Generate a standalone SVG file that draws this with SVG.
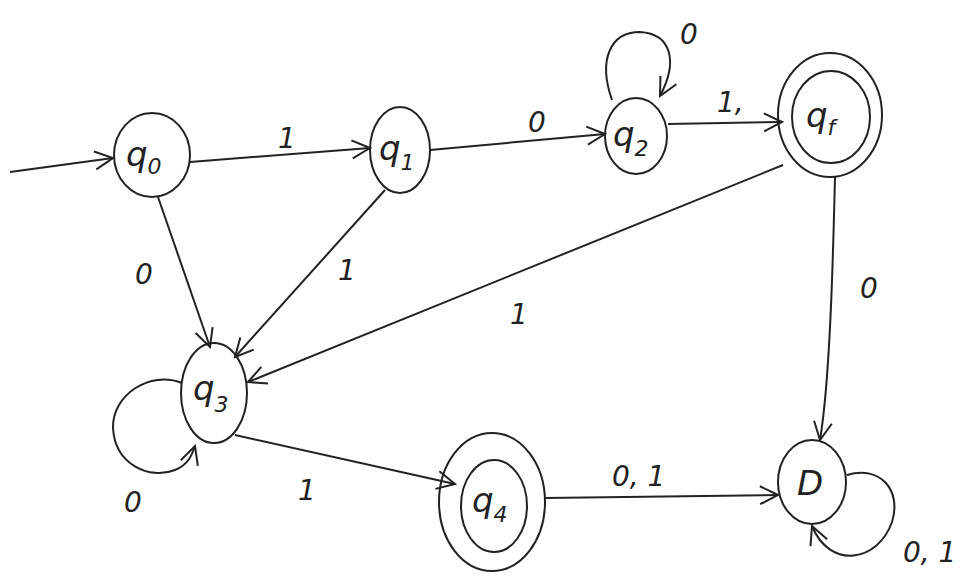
<svg xmlns="http://www.w3.org/2000/svg" width="968" height="576" viewBox="0 0 968 576">
<style>
.s{fill:none;stroke:#222;stroke-width:2;stroke-linecap:round}
.e{fill:none;stroke:#222;stroke-width:2;marker-end:url(#ah)}
.t{font-family:"DejaVu Sans",sans-serif;font-size:34px;fill:#222;font-style:italic}
.sub{font-size:22px}
.l{font-family:"DejaVu Sans",sans-serif;font-size:28px;fill:#222;font-style:italic}
</style>
<defs>
<marker id="ah" markerWidth="22" markerHeight="22" refX="20" refY="11" orient="auto" markerUnits="userSpaceOnUse">
<path d="M2,2 L20,11 L2,20" fill="none" stroke="#222" stroke-width="2"/>
</marker>
</defs>
<rect width="968" height="576" fill="#fff"/>
<g id="edges">
<path class="e" d="M10,172 L113,158"/>
<path class="e" d="M190,162 L370,148"/>
<path class="e" d="M430,150 L605,134"/>
<path class="e" d="M668,124 L782,122"/>
<path class="e" d="M612,100 C598,60 610,32 640,32 C672,34 678,62 660,96"/>
<path class="e" d="M158,197 L210,347"/>
<path class="e" d="M385,190 L235,357"/>
<path class="e" d="M783,165 L248,382"/>
<path class="e" d="M835,177 C833,260 830,380 820,440"/>
<path class="e" d="M182,383 C150,370 112,395 113,428 C115,465 150,480 175,470 C188,465 192,455 195,446"/>
<path class="e" d="M235,435 L455,484"/>
<path class="e" d="M545,498 L778,495"/>
<path class="e" d="M847,475 C880,465 902,490 892,522 C878,562 830,570 812,526"/>
<text class="l" x="278" y="148">1</text>
<text class="l" x="528" y="132">0</text>
<text class="l" x="717" y="112">1,</text>
<text class="l" x="680" y="44">0</text>
<text class="l" x="135" y="284">0</text>
<text class="l" x="338" y="280">1</text>
<text class="l" x="510" y="324">1</text>
<text class="l" x="860" y="298">0</text>
<text class="l" x="124" y="512">0</text>
<text class="l" x="298" y="500">1</text>
<text class="l" x="612" y="486">0, 1</text>
<text class="l" x="903" y="562">0, 1</text>
</g>
<g id="q0"><ellipse class="s" cx="152" cy="155" rx="38" ry="42"/><text class="t" x="126" y="166">q<tspan class="sub" dy="8">0</tspan></text></g>
<g id="q1"><ellipse class="s" cx="400" cy="150" rx="30" ry="43"/><text class="t" x="379" y="160">q<tspan class="sub" dy="10">1</tspan></text></g>
<g id="q2"><ellipse class="s" cx="636" cy="136" rx="31" ry="38"/><text class="t" x="613" y="146">q<tspan class="sub" dy="10">2</tspan></text></g>
<g id="qf"><ellipse class="s" cx="830" cy="115" rx="52" ry="62"/><ellipse class="s" cx="831" cy="117" rx="39" ry="46"/><text class="t" x="806" y="127">q<tspan class="sub" dy="8">f</tspan></text></g>
<g id="q3"><ellipse class="s" cx="214" cy="393" rx="33" ry="50"/><text class="t" x="193" y="400">q<tspan class="sub" dy="12">3</tspan></text></g>
<g id="q4"><ellipse class="s" cx="492" cy="502" rx="53" ry="69"/><ellipse class="s" cx="494" cy="506" rx="33" ry="46"/><text class="t" x="472" y="512">q<tspan class="sub" dy="10">4</tspan></text></g>
<g id="D"><ellipse class="s" cx="812" cy="482" rx="34" ry="42"/><text class="t" x="797" y="495">D</text></g>
</svg>
